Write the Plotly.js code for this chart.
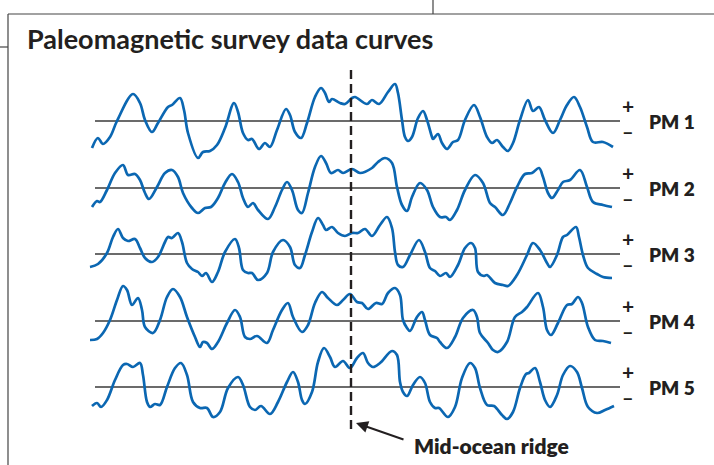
<!DOCTYPE html>
<html><head><meta charset="utf-8">
<script src="https://cdn.plot.ly/plotly-3.0.1.min.js"></script>
<style>html,body{margin:0;padding:0;background:#fff}#chart{width:714px;height:465px}</style>
</head><body><div id="chart"></div>
<script>
// Distance from the mid-ocean ridge (arbitrary km-like units) and anomaly values (+ above zero line)
const pm1_x = [-259,-253,-248,-241,-234,-218,-211,-206,-199,-193,-183,-179,-171,-167,-163,-153,-148,-141,-134,-126,-117,-113,-108,-103,-99,-92,-86,-81,-74,-65,-61,-56,-50,-44,-36,-30,-26,-22,-19,-11,-6,1,4,16,21,28,37,44,47,51,54,57,61,67,72,76,81,82,87,91,96,102,107,114,123,129,136,141,146,152,157,162,169,177,182,188,194,202,209,216,223,229,236,242,252,262];
const pm1_v = [-27,-17,-23,-16,0,27,18,1,-11,-2,14,16,23,11,-12,-37,-31,-30,-24,-7,18,9,-12,-19,-18,-28,-22,-26,-9,12,6,-11,-17,-2,24,33,28,19,22,18,17,23,24,17,21,17,29,37,28,1,-16,-20,-16,3,10,1,-16,-18,-13,-22,-28,-21,-19,1,16,4,-16,-22,-19,-26,-30,-22,1,21,10,14,1,-12,1,16,24,14,-6,-21,-21,-26];

const pm2_x = [-259,-254,-251,-244,-236,-228,-223,-216,-211,-206,-202,-194,-186,-179,-173,-168,-159,-153,-146,-140,-133,-126,-119,-113,-108,-103,-98,-93,-83,-76,-69,-64,-59,-53,-49,-43,-36,-30,-25,-20,-13,-8,1,9,21,27,34,41,46,51,56,61,69,76,82,89,95,99,106,114,124,132,139,144,152,159,166,174,181,188,192,197,201,207,212,219,229,236,242,252,261];
const pm2_v = [-19,-13,-14,-2,15,23,13,14,8,-5,-11,1,15,18,11,-5,-20,-25,-20,-19,-10,5,14,6,-10,-19,-15,-22,-31,-19,-2,6,-2,-22,-25,-5,21,32,25,15,18,15,19,15,20,26,30,25,1,-17,-23,-9,5,-2,-19,-29,-29,-32,-22,-2,13,5,-15,-19,-27,-15,1,14,15,20,11,-5,-10,-2,6,8,18,1,-14,-17,-19];

const pm3_x = [-261,-253,-244,-238,-233,-228,-223,-216,-211,-206,-199,-193,-186,-183,-179,-173,-169,-164,-159,-153,-149,-145,-139,-133,-126,-116,-112,-108,-103,-99,-93,-84,-78,-68,-61,-56,-51,-46,-39,-33,-28,-25,-19,-13,-6,1,7,14,21,29,36,41,44,47,52,59,68,74,79,84,89,95,99,107,114,120,124,127,133,136,144,152,157,166,176,182,189,196,199,206,212,216,225,228,232,237,246,252,261];
const pm3_v = [-13,-10,1,17,25,16,13,15,6,-4,-8,-3,12,17,16,21,12,-9,-15,-18,-22,-19,-28,-18,2,15,6,-16,-19,-19,-26,-19,2,14,7,-11,-14,-1,22,36,29,24,27,21,18,21,21,25,18,29,37,26,2,-11,-13,-1,14,2,-14,-17,-22,-19,-23,-11,6,11,6,-18,-22,-21,-29,-31,-32,-21,-1,11,4,-9,-13,-1,17,19,27,17,-1,-14,-20,-23,-24];

const pm4_x = [-261,-254,-248,-241,-234,-228,-224,-219,-213,-209,-206,-198,-191,-184,-178,-171,-164,-156,-151,-148,-144,-139,-133,-124,-116,-111,-106,-101,-94,-84,-78,-69,-63,-58,-49,-43,-36,-29,-23,-14,-8,-1,6,11,17,25,31,37,44,49,52,56,59,66,71,74,79,86,89,96,104,112,122,126,129,137,142,147,156,164,171,176,187,192,196,200,207,216,221,227,231,237,244,252,260];
const pm4_v = [-19,-18,-12,1,21,35,31,16,23,11,-6,-12,1,24,32,24,4,-16,-26,-21,-22,-28,-21,-2,11,4,-16,-18,-15,-22,-9,11,18,4,-11,-4,18,29,23,16,21,27,19,18,12,18,17,28,33,26,1,-7,-10,4,9,1,-14,-17,-21,-27,-16,3,11,4,-12,-22,-29,-31,-21,4,9,14,28,14,-9,-14,-2,16,17,24,18,-6,-19,-20,-22];

const pm5_x = [-259,-254,-250,-244,-236,-228,-224,-218,-211,-208,-204,-201,-196,-191,-184,-176,-170,-164,-158,-151,-144,-138,-131,-123,-113,-108,-101,-96,-90,-81,-73,-64,-58,-53,-49,-46,-39,-33,-27,-21,-16,-8,-1,6,12,17,22,29,41,46,49,52,56,62,69,74,79,84,88,97,104,111,119,124,129,136,143,151,156,162,169,175,178,184,189,194,199,206,212,219,226,231,237,246,254,263];
const pm5_v = [-19,-16,-20,-13,7,22,23,20,24,12,-15,-20,-17,-18,0,19,24,12,-15,-21,-21,-30,-25,-1,10,2,-20,-23,-19,-27,-15,5,15,5,-13,-17,-5,25,39,30,20,26,19,29,34,24,20,24,36,32,5,-5,-9,2,10,4,-15,-21,-21,-30,-20,9,24,19,-1,-18,-19,-28,-32,-25,-1,13,14,19,5,-13,-20,-8,12,21,15,-1,-20,-26,-23,-19];

const profileNames = ["PM 1","PM 2","PM 3","PM 4","PM 5"];
const profileX = [pm1_x, pm2_x, pm3_x, pm4_x, pm5_x];
const profileV = [pm1_v, pm2_v, pm3_v, pm4_v, pm5_v];

// layout: vertical placement of each profile's zero line (plot units = pixels)
const baselines = [121, 188, 254, 321, 387];
const W = 714, H = 465;
const px = x => x / W, py = y => 1 - y / H;
const blue = "#0b67b2", ink = "#231f20";
const FONT = "Lato, 'Open Sans', sans-serif";

const traces = profileV.map((vals, i) => ({
  type: "scatter", mode: "lines", name: profileNames[i],
  x: profileX[i], y: vals.map(v => v - baselines[i]),
  line: {color: blue, width: 2.7, shape: "spline", smoothing: 1},
  hoverinfo: "skip", showlegend: false
}));

const shapes = [];
baselines.forEach(b => {
  shapes.push({type: "line", xref: "x", yref: "y", x0: -256, x1: 269, y0: -b, y1: -b,
    line: {color: "#3a3a3a", width: 1.6}, layer: "below"});
});
shapes.push({type: "line", xref: "x", yref: "y", x0: 0, x1: 0, y0: -70, y1: -431,
  line: {color: ink, width: 2.4, dash: "9px,5px"}});
// frame
shapes.push({type: "line", xref: "paper", yref: "paper", x0: px(8), x1: 1, y0: py(14), y1: py(14), line: {color: "#444", width: 1.2}});
shapes.push({type: "line", xref: "paper", yref: "paper", x0: px(8), x1: px(8), y0: py(14), y1: 0, line: {color: "#444", width: 1.2}});
shapes.push({type: "line", xref: "paper", yref: "paper", x0: px(433), x1: px(433), y0: 1, y1: py(14), line: {color: "#444", width: 1.2}});
shapes.push({type: "line", xref: "paper", yref: "paper", x0: 0, x1: px(8), y0: py(47), y1: py(47), line: {color: "#444", width: 1.2}});

const annotations = [];
annotations.push({xref: "paper", yref: "paper", x: px(25), y: py(38), xanchor: "left", yanchor: "middle",
  text: "Paleomagnetic survey data curves", showarrow: false,
  font: {family: FONT, size: 27, weight: 700, color: ink}});
baselines.forEach((b, i) => {
  annotations.push({xref: "paper", yref: "paper", x: px(628), y: py(b - 16), text: "+", showarrow: false,
    xanchor: "center", yanchor: "middle", font: {family: FONT, size: 21, weight: 700, color: ink}});
  annotations.push({xref: "paper", yref: "paper", x: px(628), y: py(b + 10), text: "–", showarrow: false,
    xanchor: "center", yanchor: "middle", font: {family: FONT, size: 20, weight: 700, color: ink}});
  annotations.push({xref: "paper", yref: "paper", x: px(647), y: py(b), text: profileNames[i], showarrow: false,
    xanchor: "left", yanchor: "middle", font: {family: FONT, size: 19, weight: 800, color: ink}});
});
annotations.push({xref: "paper", yref: "paper", x: px(412), y: py(445), xanchor: "left", yanchor: "middle",
  text: "Mid-ocean ridge", showarrow: false, font: {family: FONT, size: 21, weight: 800, color: ink}});
annotations.push({xref: "x", yref: "y", x: 5, y: -423, axref: "x", ayref: "y", ax: 54, ay: -440,
  text: "", showarrow: true, arrowhead: 2, arrowsize: 1.2, arrowwidth: 2, arrowcolor: ink});

const layout = {
  width: W, height: H, margin: {l: 0, r: 0, t: 0, b: 0},
  paper_bgcolor: "#fff", plot_bgcolor: "#fff",
  xaxis: {range: [-351, 363], visible: false, fixedrange: true},
  yaxis: {range: [-465, 0], visible: false, fixedrange: true},
  shapes, annotations, showlegend: false
};
Plotly.newPlot("chart", traces, layout, {staticPlot: true, displayModeBar: false});
</script></body></html>
